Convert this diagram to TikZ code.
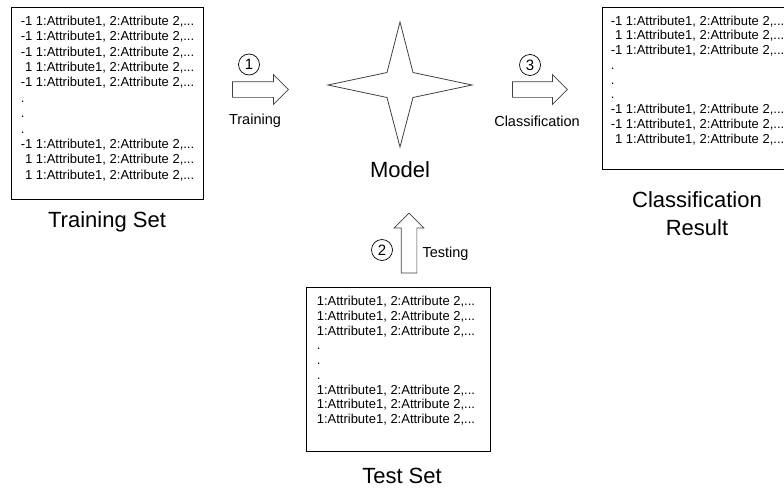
\documentclass[tikz,border=0pt]{standalone}
\usepackage{fontspec}
\setmainfont{Liberation Sans}
\usetikzlibrary{positioning,shapes.arrows}

\newcommand{\attrline}{1:Attribute1, 2:Attribute 2,...}
\newcommand{\negrow}{-1 \attrline}
\newcommand{\posrow}{\hphantom{-}1 \attrline}

\begin{document}
\begin{tikzpicture}[x=1pt,y=-1pt,
    databox/.style={draw,line width=0.8pt,inner sep=0},
    rows/.style={align=left,inner sep=0,anchor=north west,font=\fontsize{13}{#1}\selectfont},
    title/.style={font=\fontsize{22}{28}\selectfont,align=center},
    small/.style={font=\fontsize{14.5}{16}\selectfont},
    bigarrow/.style={single arrow,draw=black!75,line width=0.7pt,
                     single arrow head extend=7pt,inner sep=7.5pt},
    num/.style={circle,draw,line width=0.7pt,minimum size=21pt,inner sep=0,
                font=\fontsize{15}{15}\selectfont}]
    \clip (0,0) rectangle (784,488);

    % training set
    \node[databox,minimum width=192pt,minimum height=192pt] (train) at (107,103) {};
    \node[rows=15.4,below right=9pt and 10pt of train.north west] (trainrows)
        {\negrow\\ \negrow\\ \negrow\\ \posrow\\ \negrow\\ .\\ .\\ .\\ \negrow\\ \posrow\\ \posrow};
    \node[title,below=9pt of train] (trainset) {Training Set};

    % step 1
    \node[num] (one) at (249,64.5) {1};
    \node[bigarrow,minimum height=56pt] (trainarrow) at (256.5,89.5) {};
    \node[small,anchor=base] (training) at (255,124) {Training};

    % model
    \coordinate (star) at (400,85);
    \draw[line width=0.8pt,draw=black!75,shift={(star)}]
        (0,-63) -- (13,-12.5) -- (72,0) -- (13,12.5) -- (0,62)
        -- (-13,12.5) -- (-72,0) -- (-13,-12.5) -- cycle;
    \node[title,anchor=base] (model) at (400,177) {Model};

    % step 3
    \node[num] (three) at (530,65) {3};
    \node[bigarrow,minimum height=55pt] (classarrow) at (536,89.5) {};
    \node[small,anchor=base] (classification) at (537,126) {Classification};

    % classification result
    \node[databox,minimum width=190pt,minimum height=162pt] (result) at (697,88) {};
    \node[rows=14.75,below right=9pt and 9pt of result.north west] (resultrows)
        {\negrow\\ \posrow\\ \negrow\\ .\\ .\\ .\\ \negrow\\ \negrow\\ \posrow};
    \node[title,below=18.5pt of result] (resultlab) {Classification\\ Result};

    % step 2
    \node[num] (two) at (382,250) {2};
    \node[bigarrow,minimum height=60pt,shape border rotate=90] (testarrow) at (409,247) {};
    \node[small,anchor=base west] (testing) at (419,257) {Testing};

    % test set
    \node[databox,minimum width=184pt,minimum height=164pt] (test) at (398,369) {};
    \node[rows=14.75,below right=9.5pt and 11pt of test.north west] (testrows)
        {\attrline\\ \attrline\\ \attrline\\ .\\ .\\ .\\ \attrline\\ \attrline\\ \attrline};
    \node[title,below=13.5pt of test,xshift=4pt] (testset) {Test Set};
\end{tikzpicture}
\end{document}
